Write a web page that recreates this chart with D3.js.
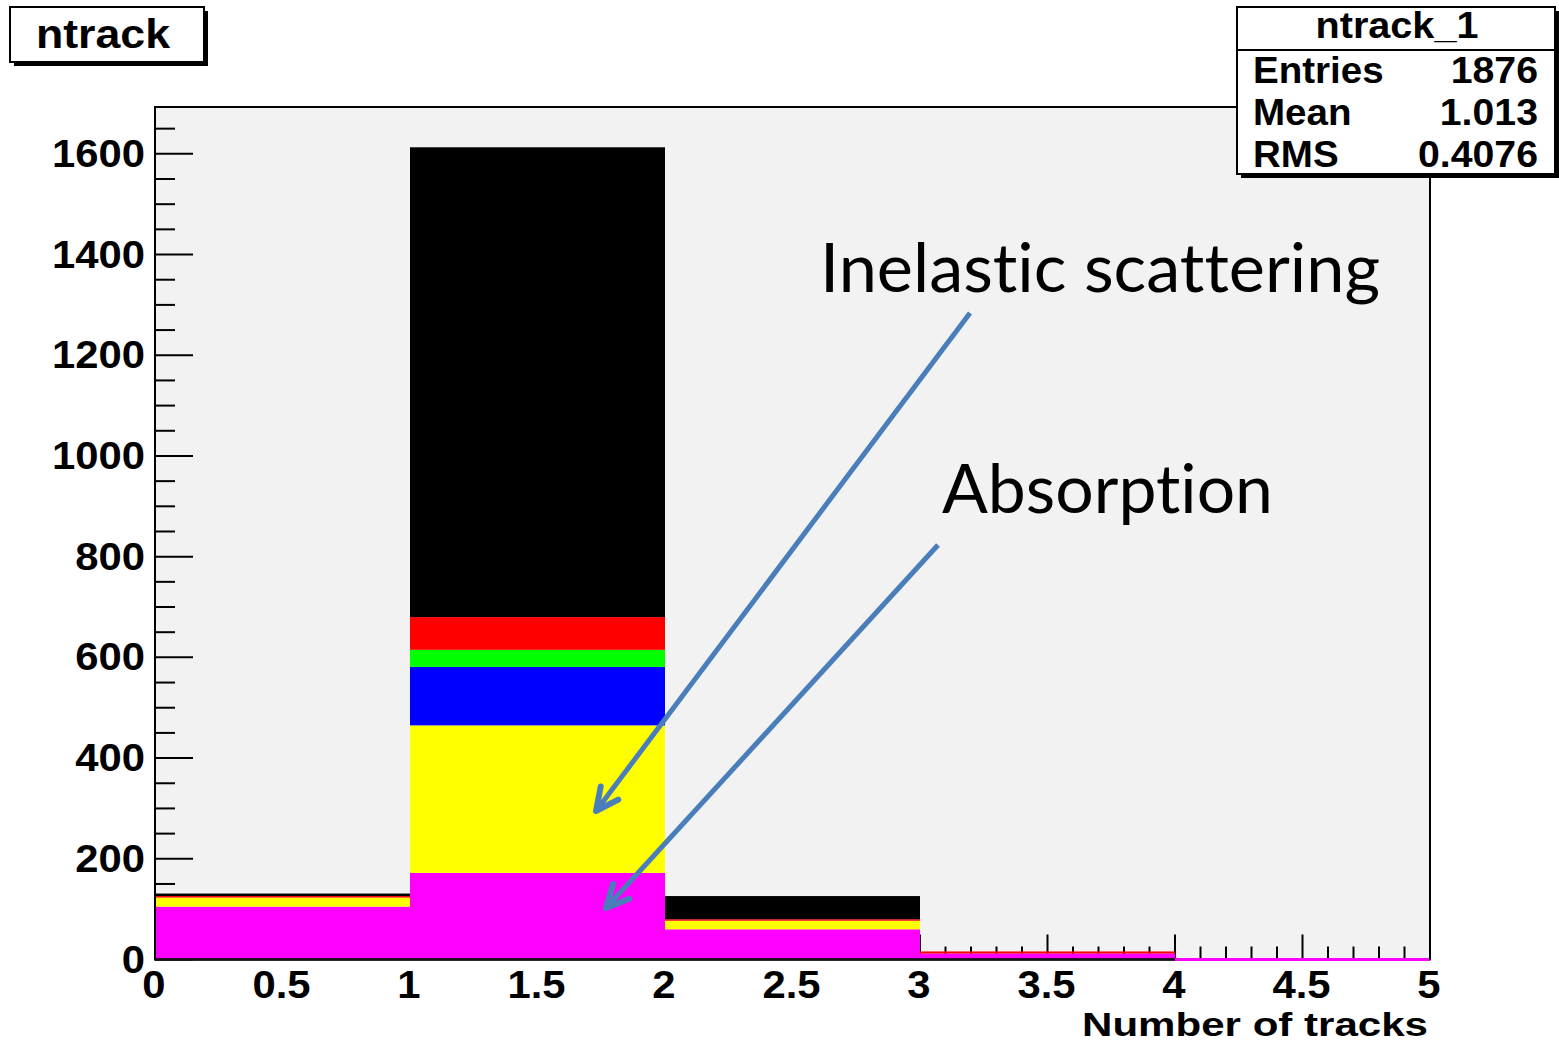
<!DOCTYPE html>
<html>
<head>
<meta charset="utf-8">
<script src="https://cdn.jsdelivr.net/npm/d3@7"></script>
<style>
  body { margin: 0; background: #fff; }
  svg { display: block; }
  .root { font-family: "Liberation Sans", Arial, sans-serif; font-weight: bold; }
  .note { font-family: Lato, "Open Sans", sans-serif; font-variant-ligatures: none; }
</style>
</head>
<body>
<div class="vis-holder"></div>
<script>
const width = 1559;
const height = 1044;

// bins of ntrack (lower edges), width 1
const binEdges = [0, 1, 2, 3, 4];
// stacked components, bottom to top
const magenta = [105, 172, 60, 12, 0];
const yellow = [18, 293, 17, 0, 0];
const blue = [0, 116, 0, 0, 0];
const green = [0, 34, 0, 0, 0];
const red = [3, 65, 3, 4, 0];
const black = [5, 933, 46, 0, 0];

const seriesNames = ["magenta", "yellow", "blue", "green", "red", "black"];
const seriesColors = ["#ff00ff", "#ffff00", "#0000ff", "#00ff00", "#ff0000", "#000000"];

const xTickLabels = ["0", "0.5", "1", "1.5", "2", "2.5", "3", "3.5", "4", "4.5", "5"];
const yTickLabels = ["0", "200", "400", "600", "800", "1000", "1200", "1400", "1600"];

const statsTitle = "ntrack_1";
const statsRows = [["Entries", "1876"], ["Mean", "1.013"], ["RMS", "0.4076"]];

const frame = {left: 155, right: 1430, top: 107, bottom: 959.5};

const svg = d3.select(".vis-holder").append("svg")
    .attr("width", width)
    .attr("height", height);

const x = d3.scaleLinear().domain([0, 5]).range([frame.left, frame.right]);
const y = d3.scaleLinear().domain([0, 1693]).range([frame.bottom, frame.top]);

// ROOT text looks a bit wider than Liberation Sans, so stretch it a little
function widen(sel, k) {
    sel.each(function() {
        const w = this.getComputedTextLength();
        d3.select(this).attr("textLength", w * k).attr("lengthAdjust", "spacingAndGlyphs");
    });
    return sel;
}

// frame fill
svg.append("rect")
    .attr("x", frame.left).attr("y", frame.top)
    .attr("width", frame.right - frame.left)
    .attr("height", frame.bottom - frame.top)
    .attr("fill", "#f2f2f2");

// ticks (drawn under the bars, like ROOT)
const ticks = svg.append("g").attr("stroke", "#000").attr("stroke-width", 2);
d3.range(0, 1651, 50).forEach(function(v) {
    const major = v % 200 === 0;
    ticks.append("line")
        .attr("x1", frame.left).attr("x2", frame.left + (major ? 38 : 20))
        .attr("y1", y(v)).attr("y2", y(v));
});
d3.range(0, 51).forEach(function(i) {
    const v = i / 10;
    const major = i % 5 === 0;
    ticks.append("line")
        .attr("x1", x(v)).attr("x2", x(v))
        .attr("y1", frame.bottom).attr("y2", frame.bottom - (major ? 25 : 13));
});

// stacked histogram
const table = binEdges.map(function(b, i) {
    return {bin: b, magenta: magenta[i], yellow: yellow[i], blue: blue[i],
            green: green[i], red: red[i], black: black[i]};
});
const stack = d3.stack().keys(seriesNames)(table);

svg.append("g").selectAll("g")
    .data(stack)
    .enter().append("g")
    .attr("fill", (d, i) => seriesColors[i])
    .selectAll("rect")
    .data(d => d.filter(s => s[1] > s[0]))
    .enter().append("rect")
    .attr("x", d => x(d.data.bin))
    .attr("width", d => x(d.data.bin + 1) - x(d.data.bin))
    .attr("y", d => y(d[1]))
    .attr("height", d => y(d[0]) - y(d[1]));

// frame border
svg.append("rect")
    .attr("x", frame.left).attr("y", frame.top)
    .attr("width", frame.right - frame.left)
    .attr("height", frame.bottom - frame.top)
    .attr("fill", "none")
    .attr("stroke", "#000")
    .attr("stroke-width", 2);
svg.append("line")
    .attr("x1", frame.left).attr("x2", x(4))
    .attr("y1", frame.bottom).attr("y2", frame.bottom)
    .attr("stroke", "#111").attr("stroke-width", 2.5);
// empty last bin outline drawn in magenta
svg.append("line")
    .attr("x1", x(4)).attr("x2", x(5) - 1)
    .attr("y1", y(0)).attr("y2", y(0))
    .attr("stroke", "#ff00ff").attr("stroke-width", 3);

// tick labels
const labels = svg.append("g").attr("class", "root").attr("fill", "#000");
yTickLabels.forEach(function(t) {
    widen(labels.append("text")
        .attr("x", 145).attr("y", y(+t) + 13)
        .attr("text-anchor", "end")
        .attr("font-size", 38)
        .text(t), 1.1);
});
xTickLabels.forEach(function(t) {
    widen(labels.append("text")
        .attr("x", x(+t) - 1).attr("y", 998)
        .attr("text-anchor", "middle")
        .attr("font-size", 38)
        .text(t), 1.1);
});
const axisTitle = labels.append("text")
    .attr("x", 1428).attr("y", 1036)
    .attr("text-anchor", "end")
    .attr("font-size", 34)
    .text("Number of tracks");
axisTitle.attr("textLength", 346).attr("lengthAdjust", "spacingAndGlyphs");

// title box
function shadowBox(x0, y0, w, h) {
    svg.append("rect").attr("x", x0 + 4).attr("y", y0 + 4)
        .attr("width", w).attr("height", h).attr("fill", "#000");
    svg.append("rect").attr("x", x0).attr("y", y0)
        .attr("width", w).attr("height", h)
        .attr("fill", "#fff").attr("stroke", "#000").attr("stroke-width", 2);
}
shadowBox(10, 7, 194, 55);
widen(svg.append("text").attr("class", "root")
    .attr("x", 103).attr("y", 48)
    .attr("text-anchor", "middle")
    .attr("font-size", 41)
    .text("ntrack"), 1.09);

// stats box
shadowBox(1237, 7, 318, 167);
svg.append("line")
    .attr("x1", 1237).attr("x2", 1555)
    .attr("y1", 50).attr("y2", 50)
    .attr("stroke", "#000").attr("stroke-width", 2);
widen(svg.append("text").attr("class", "root")
    .attr("x", 1397).attr("y", 38)
    .attr("text-anchor", "middle")
    .attr("font-size", 36)
    .text(statsTitle), 1.1);
statsRows.forEach(function(r, i) {
    const by = 83 + i * 42;
    widen(svg.append("text").attr("class", "root")
        .attr("x", 1253).attr("y", by)
        .attr("font-size", 36)
        .text(r[0]), 1.07);
    widen(svg.append("text").attr("class", "root")
        .attr("x", 1538).attr("y", by)
        .attr("text-anchor", "end")
        .attr("font-size", 36)
        .text(r[1]), 1.09);
});

// annotations
const notes = [
    {text: "Inelastic scattering", x: 820, y: 292, len: 560, from: [970, 313], to: [596, 811]},
    {text: "Absorption", x: 942, y: 513, len: 331, from: [938, 545], to: [606, 908]}
];
const arrowColor = "#4a7ebb";
notes.forEach(function(n) {
    svg.append("text")
        .attr("class", "note")
        .attr("x", n.x).attr("y", n.y)
        .attr("font-size", 68)
        .attr("textLength", n.len)
        .attr("lengthAdjust", "spacingAndGlyphs")
        .attr("fill", "#000")
        .text(n.text);
    const ang = Math.atan2(n.from[1] - n.to[1], n.from[0] - n.to[0]);
    const head = 25, spread = 26 * Math.PI / 180;
    const a1 = [n.to[0] + head * Math.cos(ang - spread), n.to[1] + head * Math.sin(ang - spread)];
    const a2 = [n.to[0] + head * Math.cos(ang + spread), n.to[1] + head * Math.sin(ang + spread)];
    svg.append("path")
        .attr("d", d3.line()([n.from, n.to]))
        .attr("stroke", arrowColor).attr("stroke-width", 5)
        .attr("fill", "none");
    svg.append("path")
        .attr("d", d3.line()([a1, n.to, a2]))
        .attr("stroke", arrowColor).attr("stroke-width", 6)
        .attr("stroke-linecap", "round").attr("stroke-linejoin", "round")
        .attr("fill", "none");
});
</script>
</body>
</html>
